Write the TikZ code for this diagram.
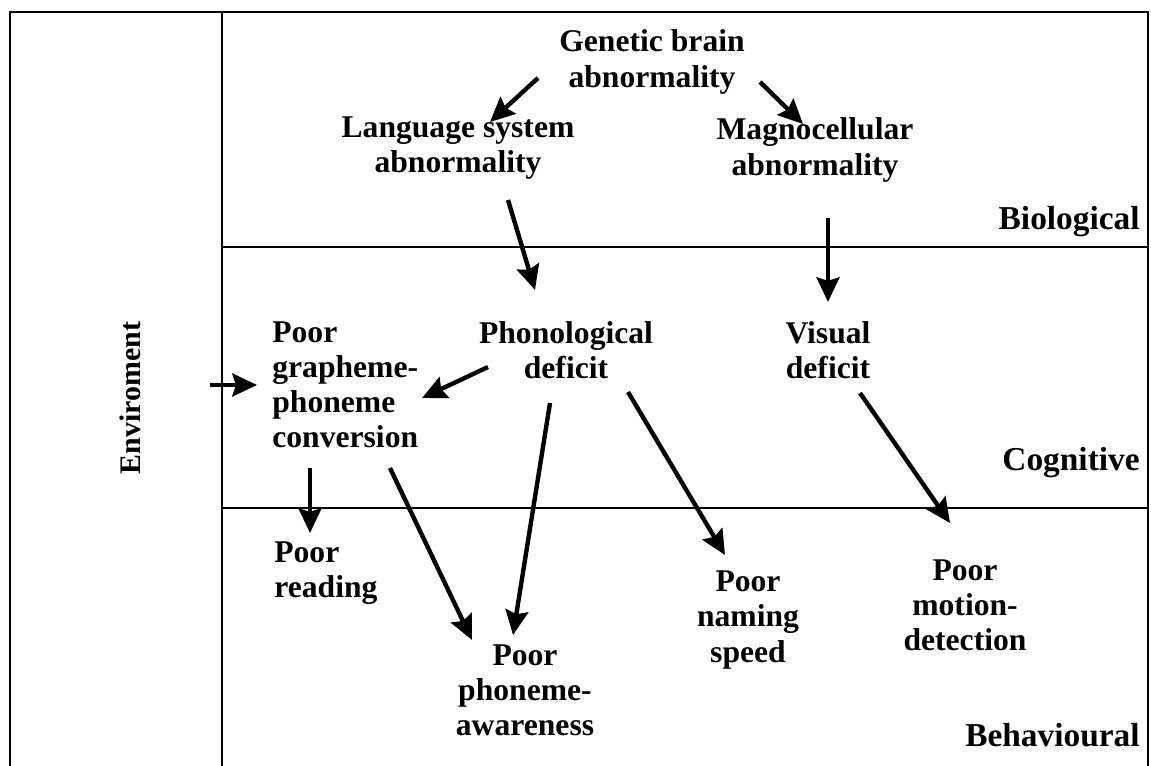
\documentclass[tikz,border=0pt]{standalone}
\usepackage{fontspec}
\setmainfont{Liberation Serif}
\usetikzlibrary{arrows.meta,calc}
\tikzset{
  frame/.style={line width=1.5pt},
  txt/.style={font=\fontsize{18}{20}\selectfont\bfseries, align=center, inner sep=0pt},
  txtl/.style={txt, align=left, anchor=west},
  lvl/.style={font=\fontsize{19}{20}\selectfont\bfseries, inner sep=0pt, anchor=east},
  arr/.style={line width=2.5pt, -{Stealth[length=14pt,width=13pt,inset=2pt]}},
}
\begin{document}
\begin{tikzpicture}[x=0.02cm,y=-0.02cm]
\useasboundingbox (0,0) rectangle (1151,766);

% frame and level dividers
\draw[frame] (10,766) -- (10,12) -- (1148,12) -- (1148,766);
\draw[frame] (222,12) -- (222,766);
\draw[frame] (222,247) -- (1148,247);
\draw[frame] (222,508) -- (1148,508);

% level labels
\node[lvl] (bio) at (1140,222) {Biological};
\node[lvl] (cog) at (1140,463) {Cognitive};
\node[lvl] (beh) at (1140,735) {Behavioural};
\node[txt, rotate=90, font=\fontsize{17}{20}\selectfont\bfseries] (env) at (130,398) {Enviroment};

% nodes
\node[txt] (gen) at (652,62) {Genetic brain\\abnormality};
\node[txt] (lang) at (458,148) {Language system\\abnormality};
\node[txt] (magno) at (815,150) {Magnocellular\\abnormality};
\node[txt] (phon) at (566,350) {Phonological\\deficit};
\node[txt] (vis) at (828,350) {Visual\\deficit};
\node[txtl] (graph) at (272,385) {Poor\\grapheme-\\phoneme\\conversion};
\node[txtl] (read) at (274,573) {Poor\\reading};
\node[txt] (aware) at (525,690) {Poor\\phoneme-\\awareness};
\node[txt] (nam) at (748,620) {Poor\\naming\\speed};
\node[txt] (mot) at (965,605) {Poor\\motion-\\detection};

% causal links
\draw[arr] ($(gen)+(-114,16)$) -- ($(lang)+(32,-26)$);
\draw[arr] ($(gen)+(108,20)$) -- ($(magno)+(-12,-26)$);
\draw[arr] ($(lang)+(50,52)$) -- ($(phon)+(-31,-60)$);
\draw[arr] ($(magno)+(13,68)$) -- ($(vis)+(0,-48)$);
\draw[arr] ($(phon)+(-78,17)$) -- ($(graph.west)+(150,13)$);
\draw[arr] ($(env)+(80,-13)$) -- ($(graph.west)+(-15,0)$);
\draw[arr] ($(graph.west)+(38,83)$) -- ($(read.west)+(36,-40)$);
\draw[arr] ($(graph.west)+(118,83)$) -- ($(aware)+(-53,-50)$);
\draw[arr] ($(phon)+(-16,53)$) -- ($(aware)+(-12,-55)$);
\draw[arr] ($(phon)+(62,42)$) -- ($(nam)+(-23,-65)$);
\draw[arr] ($(vis)+(32,43)$) -- ($(mot)+(-15,-82)$);
\end{tikzpicture}
\end{document}
